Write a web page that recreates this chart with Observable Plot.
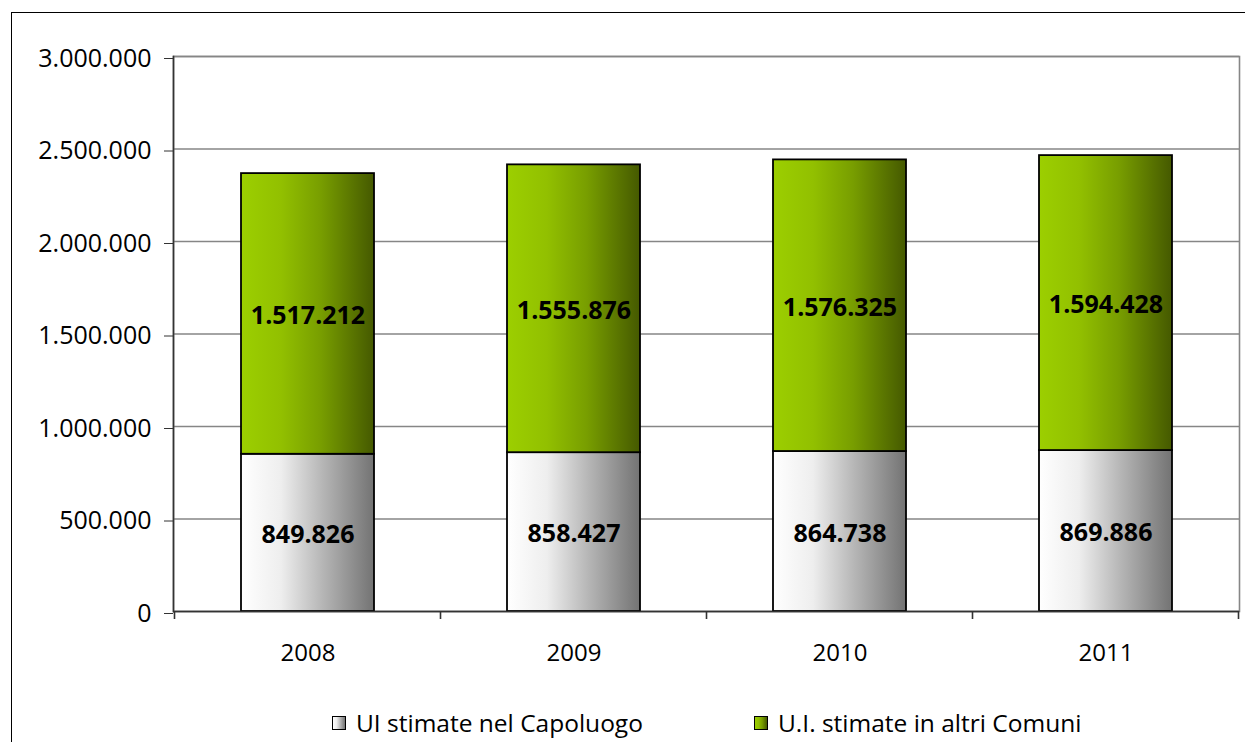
<!DOCTYPE html>
<html><head><meta charset="utf-8">
<script src="https://cdn.jsdelivr.net/npm/d3@7"></script>
<script src="https://cdn.jsdelivr.net/npm/@observablehq/plot@0.6"></script>
<style>
html,body{margin:0;padding:0;background:#fff;overflow:hidden;width:1245px;height:742px;}
#frame{position:absolute;left:11px;top:12px;width:1400px;height:900px;border-left:1.5px solid #000;border-top:1.5px solid #000;}
#chart{position:absolute;left:0;top:0;}
#legend{position:absolute;left:0;top:706px;width:1245px;font-family:"Open Sans",sans-serif;font-size:24.5px;color:#000;}
.li{position:absolute;top:0;display:flex;align-items:center;white-space:nowrap;}
.sw{width:12px;height:12px;border:1.5px solid #000;margin-right:10px;}
</style></head>
<body>
<div id="frame"></div>
<div id="chart"></div>
<div id="legend"></div>
<script>
const years = ["2008","2009","2010","2011"];
const capoluogo = [849826, 858427, 864738, 869886];
const altri = [1517212, 1555876, 1576325, 1594428];
const seriesNames = ["UI stimate nel Capoluogo", "U.I. stimate in altri Comuni"];
const yTicks = [0, 500000, 1000000, 1500000, 2000000, 2500000, 3000000];

const fmt = v => d3.format(",")(v).replace(/,/g, ".");

const rows = [];
years.forEach((y, i) => {
  rows.push({year: y, series: seriesNames[0], value: capoluogo[i], base: 0});
  rows.push({year: y, series: seriesNames[1], value: altri[i], base: capoluogo[i]});
});
const fills = {[seriesNames[0]]: "url(#gGray)", [seriesNames[1]]: "url(#gGreen)"};

const W = 1245, H = 690;
const plot = Plot.plot({
  width: W, height: H,
  marginLeft: 173, marginRight: 6, marginTop: 56, marginBottom: H - 611,
  style: {fontFamily: "'Open Sans', sans-serif", fontSize: "25px", color: "#000", background: "transparent"},
  x: {domain: years, paddingInner: 0.5, paddingOuter: 0.25, label: null},
  y: {domain: [0, 3000000], label: null},
  marks: [
    Plot.ruleY(yTicks, {stroke: "#868686", strokeWidth: 1.6}),
    Plot.frame({stroke: "#868686", strokeWidth: 1.6}),
    Plot.barY(rows, {x: "year", y1: "base", y2: d => d.base + d.value,
      fill: d => fills[d.series], stroke: "#000", strokeWidth: 1.8}),
    Plot.text(rows, {x: "year", y: d => d.base + d.value / 2, dy: 2, text: d => fmt(d.value),
      fontWeight: "bold", fontSize: 25, fill: "#000"}),
    Plot.frame({anchor: "left", stroke: "#333", strokeWidth: 1.6}),
    Plot.ruleY([0], {stroke: "#333", strokeWidth: 1.6}),
    Plot.axisY({ticks: yTicks, tickFormat: fmt, tickSize: 9, tickPadding: 13, stroke: "#333", fontSize: 25, dy: 2}),
    Plot.axisX({tickSize: 0, tickPadding: 32, fontSize: 24})
  ]
});

const svg = d3.select(plot);
const defs = svg.insert("defs", ":first-child");
const gg = defs.append("linearGradient").attr("id", "gGray").attr("x1", 0).attr("x2", 1).attr("y1", 0).attr("y2", 0);
[[0, "#ffffff"], [0.3, "#eeeeee"], [0.6, "#b8b8b8"], [1, "#737373"]].forEach(([o, c]) => gg.append("stop").attr("offset", o).attr("stop-color", c));
const gr = defs.append("linearGradient").attr("id", "gGreen").attr("x1", 0).attr("x2", 1).attr("y1", 0).attr("y2", 0);
[[0, "#9ccf00"], [0.3, "#92c000"], [0.6, "#789e00"], [1, "#455900"]].forEach(([o, c]) => gr.append("stop").attr("offset", o).attr("stop-color", c));

// tick marks at the category boundaries, derived from the band scale
const xs = plot.scale("x");
const step = xs.step, bw = xs.bandwidth;
const bounds = years.map(y => xs.apply(y) - (step - bw) / 2);
bounds.push(xs.apply(years[years.length - 1]) + bw + (step - bw) / 2);
const ys = plot.scale("y");
const y0 = ys.apply(0);
svg.append("g").selectAll("line").data(bounds).join("line")
  .attr("x1", d => d).attr("x2", d => d).attr("y1", y0).attr("y2", y0 + 8)
  .attr("stroke", "#333").attr("stroke-width", 1.6);

document.getElementById("chart").appendChild(plot);

// legend
const leg = d3.select("#legend");
const legPos = [332, 754];
seriesNames.forEach((n, i) => {
  const it = leg.append("div").attr("class", "li").style("left", legPos[i] + "px");
  it.append("div").attr("class", "sw").style("background", i === 0
    ? "linear-gradient(to right,#ffffff,#eeeeee 30%,#b8b8b8 60%,#737373)"
    : "linear-gradient(to right,#9ccf00,#92c000 30%,#789e00 60%,#455900)");
  it.append("span").text(n);
});
</script>
</body></html>
